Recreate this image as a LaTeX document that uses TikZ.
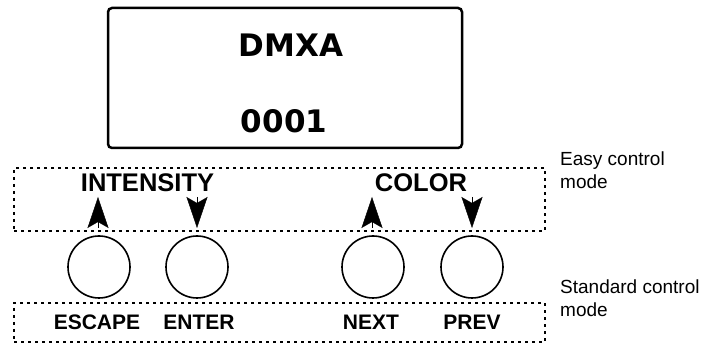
\documentclass[tikz,border=0pt]{standalone}
\usepackage{fontspec}
\setmainfont{Liberation Sans}
\newfontfamily\lcdfont{DejaVu Sans}
\usetikzlibrary{arrows.meta,positioning}
\tikzset{display/.style={
            draw,
            line width=2.5pt,
            rounded corners=4pt,
            inner sep=0pt,
            minimum width=354pt,
            minimum height=140pt
        },
        lcdtext/.style={
            anchor=base,
            inner sep=0pt,
            font=\lcdfont\bfseries\fontsize{31}{36}\selectfont
        },
        button/.style={
            draw,
            circle,
            line width=1.6pt,
            inner sep=0pt,
            minimum size=62pt
        },
        modebox/.style={
            draw,
            line width=1.8pt,
            dash pattern=on 3pt off 4pt,
            inner sep=0pt
        },
        funclabel/.style={
            anchor=base,
            inner sep=0pt,
            font=\bfseries\fontsize{25.5}{30}\selectfont
        },
        keylabel/.style={
            anchor=base,
            inner sep=0pt,
            font=\bfseries\fontsize{21}{25}\selectfont
        },
        modetext/.style={
            anchor=base west,
            align=left,
            inner sep=0pt,
            font=\fontsize{19}{23}\selectfont
        },
        keytip/.style={
            line width=0.4pt,
            -{Stealth[length=31pt,width=21pt,inset=6pt]}
        }
    }
\begin{document}
\begin{tikzpicture}[x=1pt,y=-1pt]
        \useasboundingbox (0,0) rectangle (705,344);
        % display
        \node[display] (lcd) at (285,78) {};
        \node[lcdtext] (mode) at (291,57) {DMXA};
        \node[lcdtext] (addr) at (284,133) {0001};
        % dashed frames
        \node[modebox,minimum width=531pt,minimum height=63pt] (easy) at (279.5,199.5) {};
        \node[modebox,minimum width=531pt,minimum height=39pt] (std) at (279.5,322.5) {};
        \node[modetext] (easytxt) at (560,189) {Easy control\\mode};
        \node[modetext] (stdtxt) at (560,317) {Standard control\\mode};
        % functions
        \node[funclabel] (intensity) at (147.5,192) {INTENSITY};
        \node[funclabel] (color) at (421,192) {COLOR};
        % buttons
        \node[button] (escape) at (99,267) {};
        \node[button] (enter) at (197,267) {};
        \node[button] (next) at (373,267) {};
        \node[button] (prev) at (472,267) {};
        \node[keylabel] (esclbl) at (97,330) {ESCAPE};
        \node[keylabel] (entlbl) at (199,330) {ENTER};
        \node[keylabel] (nxtlbl) at (371,330) {NEXT};
        \node[keylabel] (prvlbl) at (472,330) {PREV};
        % arrow heads
        \coordinate (escA) at (98,228);
        \coordinate (escB) at (98,197);
        \coordinate (entA) at (197,197);
        \coordinate (entB) at (197,228);
        \coordinate (nxtA) at (372,228);
        \coordinate (nxtB) at (372,197);
        \coordinate (prvA) at (472,197);
        \coordinate (prvB) at (472,228);
        \draw[keytip] (escA) -- (escB);
        \draw[keytip] (entA) -- (entB);
        \draw[keytip] (nxtA) -- (nxtB);
        \draw[keytip] (prvA) -- (prvB);
    \end{tikzpicture}
\end{document}
